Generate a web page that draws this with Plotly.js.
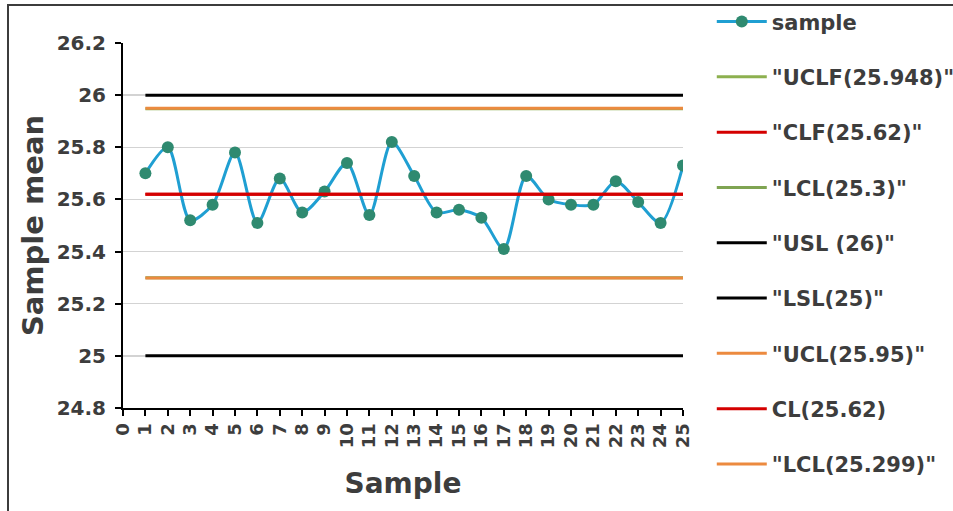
<!DOCTYPE html>
<html>
<head>
<meta charset="utf-8">
<script src="https://cdn.plot.ly/plotly-3.0.1.min.js"></script>
<style>
  html, body { margin: 0; padding: 0; background: #fff; }
  #wrap { position: relative; width: 953px; height: 511px; overflow: hidden; }
  #chart { width: 953px; height: 511px; }
  #frame { position: absolute; left: 7px; top: 4px; width: 1000px; height: 600px;
           border-top: 2px solid #3c3c3c; border-left: 2px solid #3c3c3c; pointer-events: none; }
</style>
</head>
<body>
<div id="wrap"><div id="chart"></div><div id="frame"></div></div>
<script>
const samples = [1,2,3,4,5,6,7,8,9,10,11,12,13,14,15,16,17,18,19,20,21,22,23,24,25];
const sampleMeans = [25.70,25.80,25.52,25.58,25.78,25.51,25.68,25.55,25.63,25.74,25.54,25.82,25.69,25.55,25.56,25.53,25.41,25.69,25.60,25.58,25.58,25.67,25.59,25.51,25.73];
const limitNames = ['"UCLF(25.948)"', '"CLF(25.62)"', '"LCL(25.3)"', '"USL (26)"', '"LSL(25)"', '"UCL(25.95)"', 'CL(25.62)', '"LCL(25.299)"'];
const limitValues = [25.948, 25.62, 25.3, 26, 25, 25.95, 25.62, 25.299];
const limitColors = ['#8db04f', '#d40000', '#7fa452', '#000000', '#000000', '#ec8a3f', '#d40000', '#ec8a3f'];
const xTickVals = [0,1,2,3,4,5,6,7,8,9,10,11,12,13,14,15,16,17,18,19,20,21,22,23,24,25];
const yTickVals = [24.8,25,25.2,25.4,25.6,25.8,26,26.2];
const yTickText = ['24.8','25','25.2','25.4','25.6','25.8','26','26.2'];

const FONT = 'DejaVu Sans, Verdana, sans-serif';
const TXT = '#3d3d3d';

const traces = [{
  x: samples, y: sampleMeans, type: 'scatter', mode: 'lines+markers', name: 'sample',
  line: { color: '#1f9fd2', width: 3, shape: 'spline', smoothing: 0.8 },
  marker: { color: '#2f8a70', size: 12 },
  legendgroup: 'g0'
}];
limitNames.forEach((n, i) => {
  traces.push({
    x: [samples[0], samples[samples.length - 1]],
    y: [limitValues[i], limitValues[i]],
    type: 'scatter', mode: 'lines', name: n,
    line: { color: limitColors[i], width: 3 },
    legendgroup: 'g' + (i + 1)
  });
});

const layout = {
  width: 953, height: 511,
  paper_bgcolor: '#ffffff', plot_bgcolor: '#ffffff',
  margin: { l: 123, r: 270, t: 43, b: 103, autoexpand: false },
  font: { family: FONT, color: TXT },
  showlegend: true,
  legend: {
    x: 1.0514, xanchor: 'left', y: 1.114, yanchor: 'top',
    font: { family: FONT, size: 21, color: TXT, weight: 'bold' },
    tracegroupgap: 25, itemwidth: 50, bgcolor: 'rgba(0,0,0,0)', maxheight: 1000
  },
  xaxis: {
    range: [0, 25], tickmode: 'array', tickvals: xTickVals, ticktext: xTickVals.map(String),
    tickangle: -90, ticks: 'outside', ticklen: 6, tickwidth: 2, tickcolor: '#000',
    showline: true, linecolor: '#000', linewidth: 2, showgrid: false, zeroline: false,
    tickfont: { family: FONT, size: 18, color: TXT, weight: 'bold' },
    title: { text: 'Sample', font: { family: FONT, size: 28, color: TXT, weight: 'bold' }, standoff: 26 }
  },
  yaxis: {
    range: [24.8, 26.2], tickmode: 'array', tickvals: yTickVals, ticktext: yTickText,
    ticks: 'outside', ticklen: 6, tickwidth: 2, tickcolor: '#000', ticklabelstandoff: 5,
    showline: true, linecolor: '#000', linewidth: 2, zeroline: false,
    showgrid: true, gridcolor: '#d3d3d3', gridwidth: 1.5,
    tickfont: { family: FONT, size: 20, color: TXT, weight: 'bold' },
    title: { text: 'Sample mean', font: { family: FONT, size: 29, color: TXT, weight: 'bold' }, standoff: 4 }
  }
};

Plotly.newPlot('chart', traces, layout, { displayModeBar: false, staticPlot: true });
</script>
</body>
</html>
